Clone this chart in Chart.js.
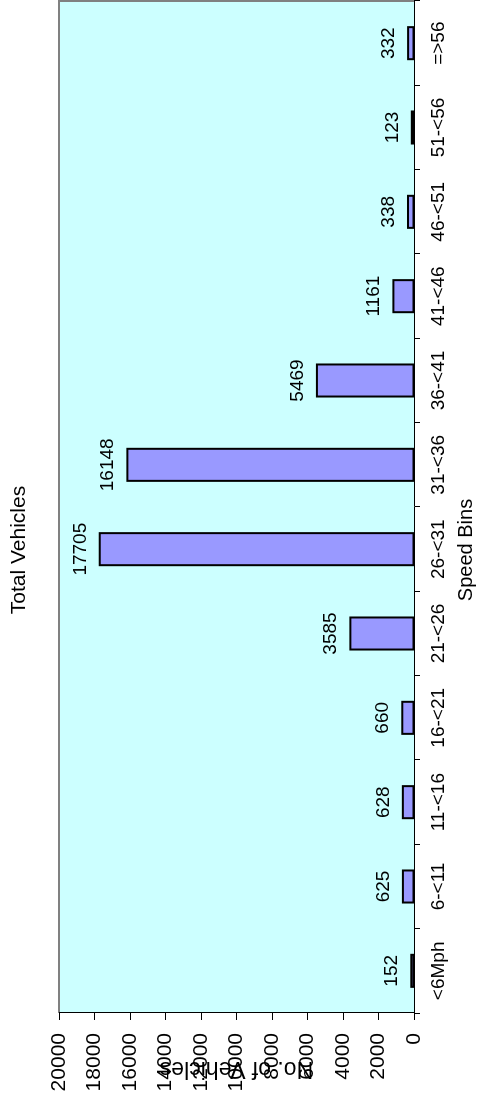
<!DOCTYPE html>
<html>
<head>
<meta charset="utf-8">
<script src="https://cdn.jsdelivr.net/npm/chart.js@4.4.1/dist/chart.umd.min.js"></script>
<style>
  html, body { margin: 0; padding: 0; background: #fff; overflow: hidden; }
  body { width: 493px; height: 1099px; position: relative; }
  #wrap {
    position: absolute; left: 0; top: 0;
    width: 1099px; height: 493px;
    transform-origin: 0 0;
    transform: translate(0, 1099px) rotate(-90deg);
  }
</style>
</head>
<body>
<div id="wrap"><canvas id="c"></canvas></div>
<script>
const categories = ['<6Mph', '6-<11', '11-<16', '16-<21', '21-<26', '26-<31', '31-<36', '36-<41', '41-<46', '46-<51', '51-<56', '=>56'];
const vehicleCounts = [152, 625, 628, 660, 3585, 17705, 16148, 5469, 1161, 338, 123, 332];
const valueTicks = [0, 2000, 4000, 6000, 8000, 10000, 12000, 14000, 16000, 18000, 20000];
const chartTitle = 'Total Vehicles';
const xTitle = 'Speed Bins';
const yTitle = 'No. of Vehicles';

const FONT = '"Liberation Sans", Arial, sans-serif';

const plotFrame = {
  id: 'plotFrame',
  beforeDraw(chart) {
    const a = chart.chartArea, ctx = chart.ctx;
    ctx.save();
    ctx.fillStyle = '#CCFFFF';
    ctx.fillRect(a.left, a.top, a.right - a.left, a.bottom - a.top);
    ctx.strokeStyle = '#808080';
    ctx.lineWidth = 2;
    ctx.beginPath();
    ctx.moveTo(a.left, a.top);
    ctx.lineTo(a.right, a.top);
    ctx.lineTo(a.right, a.bottom);
    ctx.stroke();
    ctx.restore();
  }
};

// Excel-style centred outline on each bar plus value labels above it
const barOutlineAndLabels = {
  id: 'barOutlineAndLabels',
  afterDatasetsDraw(chart) {
    const ctx = chart.ctx;
    const meta = chart.getDatasetMeta(0);
    ctx.save();
    ctx.strokeStyle = '#000';
    ctx.lineWidth = 2;
    ctx.lineJoin = 'miter';
    meta.data.forEach(bar => {
      const p = bar.getProps(['x', 'y', 'base', 'width'], true);
      const l = p.x - p.width / 2, t = Math.min(p.y, p.base), h = Math.abs(p.base - p.y);
      ctx.strokeRect(l, t, p.width, h);
    });
    ctx.fillStyle = '#000';
    ctx.font = '19px ' + FONT;
    ctx.textAlign = 'center';
    ctx.textBaseline = 'alphabetic';
    meta.data.forEach((bar, i) => {
      ctx.fillText(String(chart.data.datasets[0].data[i]), bar.x, bar.y - 14);
    });
    ctx.restore();
  }
};

new Chart(document.getElementById('c'), {
  type: 'bar',
  data: {
    labels: categories,
    datasets: [{
      data: vehicleCounts,
      backgroundColor: '#9999FF',
      borderWidth: 0,
      inflateAmount: 0,
      barPercentage: 0.38,
      categoryPercentage: 1.0
    }]
  },
  options: {
    responsive: true,
    maintainAspectRatio: false,
    animation: false,
    layout: { padding: { left: 0, right: 1, top: 0, bottom: 0 } },
    plugins: {
      legend: { display: false },
      tooltip: { enabled: false },
      title: {
        display: true, text: chartTitle, position: 'top', color: '#000',
        font: { family: FONT, size: 21, weight: 'normal', lineHeight: 1.2 },
        padding: { top: 6.5, bottom: 27.3 }
      },
      subtitle: {
        display: true, text: xTitle, position: 'bottom', color: '#000',
        font: { family: FONT, size: 20, weight: 'normal', lineHeight: 1.2 },
        padding: { top: 0, bottom: 15 }
      }
    },
    scales: {
      x: {
        type: 'category',
        grid: { display: true, drawOnChartArea: false, drawTicks: true, tickLength: 6, color: '#000', offset: true },
        border: { display: true, color: '#000', width: 1 },
        ticks: { color: '#000', font: { family: FONT, size: 19 }, padding: 7, maxRotation: 0, autoSkip: false },
        afterFit(scale) { scale.height = 40; }
      },
      y: {
        min: 0, max: 20000,
        afterBuildTicks(scale) { scale.ticks = valueTicks.map(v => ({ value: v })); },
        grid: { display: true, drawOnChartArea: false, drawTicks: true, tickLength: 7, color: '#000' },
        border: { display: true, color: '#000', width: 1 },
        ticks: { color: '#000', font: { family: FONT, size: 21 }, padding: 13, callback: v => String(v) },
        title: {
          display: true, text: yTitle, color: '#000',
          font: { family: FONT, size: 23, weight: 'normal', lineHeight: 1.2 },
          padding: { top: 17, bottom: 0 }
        },
        afterFit(scale) { scale.width = 86; }
      }
    }
  },
  plugins: [plotFrame, barOutlineAndLabels]
});
</script>
</body>
</html>
